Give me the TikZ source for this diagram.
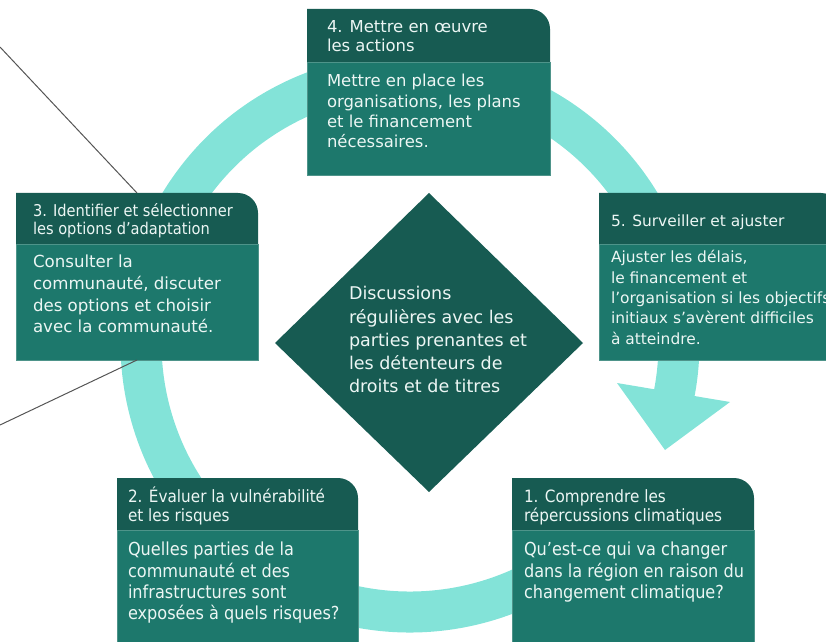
\documentclass[tikz,border=0pt]{standalone}
\usepackage{fontspec}
\setmainfont{DejaVu Sans}
\newfontfamily\condfont{DejaVu Sans}[FakeStretch=0.9]
\usetikzlibrary{calc}
\definecolor{hdr}{RGB}{23,91,82}
\definecolor{bdy}{RGB}{29,120,108}
\definecolor{ringc}{RGB}{131,227,216}
\definecolor{txt}{RGB}{236,246,244}
\definecolor{edgec}{RGB}{78,148,138}
\definecolor{linec}{RGB}{85,85,85}
\newcommand\stepbox[5]{% x1, top, x2, header bottom, bottom
  \fill[bdy] (#1,#4) rectangle (#3,#5);
  \draw[edgec,line width=0.7bp] (#1,#4) -- (#1,#5) -- (#3,#5) -- (#3,#4);
  \fill[hdr] (#1,#4) -- (#1,#2) -- ({#3-20},#2) arc[start angle=-90,end angle=0,radius=20] -- (#3,#4) -- cycle;
  \draw[edgec,line width=0.7bp] (#1,#4) -- (#3,#4);
}
\begin{document}
\begin{tikzpicture}[x=1bp,y=-1bp,
  lbl/.style={anchor=north west,inner sep=0pt,outer sep=0pt,align=left,text=txt},
  graylink/.style={draw=linec,line width=1bp}]
\useasboundingbox (0,0) rectangle (826,642);
\clip (0,0) rectangle (826,642);
% ring (open circle ending in an arrow head)
\coordinate (C) at (410,343);
\draw[ringc,line width=41bp] ($(C)+(36:269)$) arc[start angle=36,end angle=372,radius=269];
\coordinate (barbL) at (617,383);
\coordinate (barbR) at (730,402);
\coordinate (tip) at (665,450);
\fill[ringc] (barbL) -- (barbR) -- (tip) -- cycle;
% boxes
\stepbox{307}{9}{550}{62}{175}
\stepbox{16}{193}{258}{244}{360}
\stepbox{599}{193}{841}{244}{360}
\stepbox{117}{478}{358}{530}{660}
\stepbox{512}{478}{754}{530}{660}
% diamond
\fill[hdr] (429,193) -- (583,343) -- (429,492) -- (275,343) -- cycle;
% gray lines
\coordinate (b3top) at (137,193);
\coordinate (b3bot) at (137,360);
\coordinate (l1) at (0,47);
\coordinate (l2) at (0,425);
\draw[graylink] (l1) -- (b3top);
\draw[graylink] (l2) -- (b3bot);
% texts
\node[lbl,font={\fontsize{16.5}{19}\selectfont}] (h4) at (327,16.5) {\rule{0pt}{16.5pt}4. Mettre en œuvre\\les actions};
\node[lbl,font={\fontsize{16.5}{20.3}\selectfont}] (t4) at (327,70.5) {\rule{0pt}{16.5pt}Mettre en place les\\organisations, les plans\\et le financement\\nécessaires.};
\node[lbl,font={\condfont\fontsize{16.3}{18}\selectfont}] (h3) at (33,201) {\rule{0pt}{16pt}3. Identifier et sélectionner\\les options d’adaptation};
\node[lbl,font={\fontsize{16.7}{21.7}\selectfont}] (t3) at (33,251.3) {\rule{0pt}{16.7pt}Consulter la\\communauté, discuter\\des options et choisir\\avec la communauté.};
\node[lbl,font={\fontsize{15.5}{19}\selectfont}] (h5) at (611,211.5) {\rule{0pt}{15.5pt}5. Surveiller et ajuster};
\node[lbl,font={\fontsize{15.5}{20.4}\selectfont}] (t5) at (611,247.5) {\rule{0pt}{15.5pt}Ajuster les délais,\\le financement et\\l’organisation si les objectifs\\initiaux s’avèrent difficiles\\à atteindre.};
\node[lbl,font={\condfont\fontsize{17}{18.5}\selectfont}] (h2) at (128,486.3) {\rule{0pt}{16.7pt}2. Évaluer la vulnérabilité\\et les risques};
\node[lbl,font={\condfont\fontsize{18}{21.3}\selectfont}] (t2) at (128,538) {\rule{0pt}{18pt}Quelles parties de la\\communauté et des\\infrastructures sont\\exposées à quels risques?};
\node[lbl,font={\condfont\fontsize{17}{18.5}\selectfont}] (h1) at (524,486.3) {\rule{0pt}{16.7pt}1. Comprendre les\\répercussions climatiques};
\node[lbl,font={\condfont\fontsize{18}{21.3}\selectfont}] (t1) at (524,538) {\rule{0pt}{18pt}Qu’est-ce qui va changer\\dans la région en raison du\\changement climatique?};
\node[lbl,font={\fontsize{17.6}{23.3}\selectfont}] (dt) at (349,282.6) {\rule{0pt}{17.4pt}Discussions\\régulières avec les\\parties prenantes et\\les détenteurs de\\droits et de titres};
\end{tikzpicture}
\end{document}
